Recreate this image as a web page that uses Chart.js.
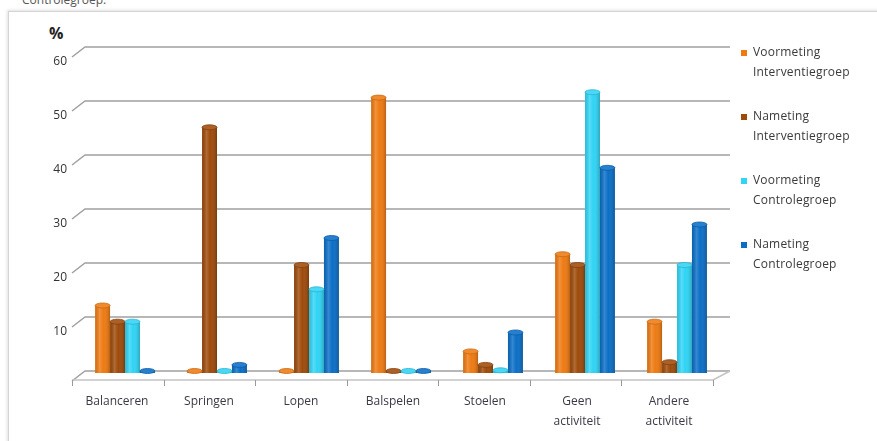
<!DOCTYPE html>
<html>
<head>
<meta charset="utf-8">
<script src="https://cdn.jsdelivr.net/npm/chart.js@4/dist/chart.umd.min.js"></script>
<style>
  html, body { margin: 0; padding: 0; background: #fff; }
  #wrap { position: relative; width: 877px; height: 441px; overflow: hidden; font-family: "Open Sans", sans-serif; }
  #frame { position: absolute; left: 8px; top: 11px; width: 900px; height: 460px; border: 1px solid #d4d4d4; box-shadow: -1px -1px 3px rgba(0,0,0,0.12); }
  #caption { position: absolute; left: 22px; top: -9px; font-size: 12px; color: #555; }
  #unit { position: absolute; left: 49px; top: 22px; font-size: 16px; font-weight: bold; color: #222; }
  #legend { position: absolute; left: 741px; top: 42px; font-size: 12px; color: #3a3a3a; }
  .item { position: relative; height: 64px; }
  .swatch { position: absolute; left: 0; top: 8px; width: 6px; height: 6px; }
  .text { position: absolute; left: 12px; top: 0; line-height: 20px; white-space: nowrap; letter-spacing: 0.2px; }
  canvas { position: absolute; left: 0; top: 0; }
</style>
</head>
<body>
<div id="wrap">
  <div id="frame"></div>
  <div id="caption">Controlegroep.</div>
  <div id="unit">%</div>
  <canvas id="chart" width="877" height="441"></canvas>
  <div id="legend"></div>
</div>
<script>
const categories = [
  ["Balanceren"],
  ["Springen"],
  ["Lopen"],
  ["Balspelen"],
  ["Stoelen"],
  ["Geen", "activiteit"],
  ["Andere", "activiteit"],
];

const voormetingInterventie = [12.5, 0, 0, 51, 4, 22, 9.5];
const nametingInterventie = [9.5, 45.5, 20, 0, 1.5, 20, 2];
const voormetingControle = [9.5, 0, 15.5, 0, 0.5, 52, 20];
const nametingControle = [0, 1.5, 25, 0, 7.5, 38, 27.5];

const seriesLabels = [
  ["Voormeting", "Interventiegroep"],
  ["Nameting", "Interventiegroep"],
  ["Voormeting", "Controlegroep"],
  ["Nameting", "Controlegroep"],
];
const seriesColors = ["#ee7a12", "#9e4a0a", "#30d4f5", "#0a6ec6"];
const seriesData = [voormetingInterventie, nametingInterventie, voormetingControle, nametingControle];

const yMax = 60;
const yStep = 10;

// legend (two-line labels)
const legendEl = document.getElementById("legend");
legendEl.innerHTML = seriesLabels
  .map(
    (lines, i) => `
    <div class="item">
      <div class="swatch" style="background:${seriesColors[i]}"></div>
      <div class="text">${lines.join("<br>")}</div>
    </div>`
  )
  .join("");

function shade(hex, amt) {
  const n = parseInt(hex.slice(1), 16);
  const c = [n >> 16, (n >> 8) & 255, n & 255].map((v) =>
    Math.max(0, Math.min(255, Math.round(amt > 0 ? v + (255 - v) * amt : v * (1 + amt))))
  );
  return `rgb(${c[0]},${c[1]},${c[2]})`;
}

// back wall gridlines, floor and the category tick marks
const walls = {
  id: "walls",
  beforeDatasetsDraw(chart) {
    const { ctx, chartArea } = chart;
    const y = chart.scales.y;
    const { left, right, bottom } = chartArea;
    ctx.save();
    ctx.strokeStyle = "#a0a0a0";
    ctx.lineWidth = 1.5;
    for (let v = 0; v <= yMax; v += yStep) {
      const py = y.getPixelForValue(v) - 2;
      ctx.beginPath();
      ctx.moveTo(left - 7, py + 10);
      ctx.lineTo(left + 6, py);
      ctx.lineTo(right + 7, py);
      ctx.stroke();
    }
    // floor front edge + right side
    const fy = bottom + 7;
    const fl = left - 7;
    const fr = right - 10;
    ctx.strokeStyle = "#c4c4c4";
    ctx.beginPath();
    ctx.moveTo(fl, fy);
    ctx.lineTo(fr, fy);
    ctx.lineTo(right + 7, bottom - 2);
    ctx.stroke();
    ctx.strokeStyle = "#9a9a9a";
    ctx.lineWidth = 1;
    const step = (fr - fl) / categories.length;
    for (let k = 0; k <= categories.length; k++) {
      const px = Math.round(fl + k * step) + 0.5;
      ctx.beginPath();
      ctx.moveTo(px, fy);
      ctx.lineTo(px, fy + 6);
      ctx.stroke();
    }
    ctx.restore();
  },
  afterDatasetsDraw(chart) {
    const { ctx } = chart;
    ctx.save();
    chart.data.datasets.forEach((ds, di) => {
      const meta = chart.getDatasetMeta(di);
      meta.data.forEach((bar) => {
        const { x, y, base, width } = bar.getProps(["x", "y", "base", "width"], true);
        const l = x - width / 2;
        const g = ctx.createLinearGradient(l, 0, l + width, 0);
        g.addColorStop(0, "rgba(0,0,0,0.10)");
        g.addColorStop(0.3, "rgba(255,255,255,0.18)");
        g.addColorStop(0.55, "rgba(255,255,255,0)");
        g.addColorStop(1, "rgba(0,0,0,0.22)");
        ctx.fillStyle = g;
        ctx.fillRect(l, y, width, base - y);
        ctx.fillStyle = shade(ds.backgroundColor, 0.12);
        ctx.beginPath();
        ctx.ellipse(x, y, width / 2, 2.5, 0, 0, Math.PI * 2);
        ctx.fill();
        ctx.strokeStyle = shade(ds.backgroundColor, -0.15);
        ctx.lineWidth = 0.8;
        ctx.stroke();
      });
    });
    ctx.restore();
  },
};

new Chart(document.getElementById("chart"), {
  type: "bar",
  data: {
    labels: categories,
    datasets: seriesData.map((d, i) => ({
      label: seriesLabels[i].join(" "),
      data: d,
      backgroundColor: seriesColors[i],
      borderWidth: 0,
      minBarLength: 2,
      categoryPercentage: 0.65,
      barPercentage: 1.0,
    })),
  },
  options: {
    responsive: false,
    animation: false,
    layout: { padding: { left: 0, right: 154, top: 49, bottom: 0 } },
    plugins: { legend: { display: false }, tooltip: { enabled: false } },
    scales: {
      x: {
        grid: { display: false, drawTicks: false },
        border: { display: false },
        ticks: {
          color: "#3a3a46",
          font: { family: "Open Sans", size: 12, lineHeight: 1.7 },
          padding: 18,
          labelOffset: -8,
          maxRotation: 0,
          autoSkip: false,
        },
        afterFit: (s) => { s.height = 68; },
      },
      y: {
        min: 0,
        max: yMax,
        grid: { display: false, drawTicks: false },
        border: { display: false },
        ticks: {
          stepSize: yStep,
          color: "#333",
          font: { family: "Open Sans", size: 12 },
          padding: 12,
          labelOffset: 13,
          callback: (v) => (v === 0 ? "" : v),
        },
        afterFit: (s) => { s.width = 79; },
      },
    },
  },
  plugins: [walls],
});
</script>
</body>
</html>
